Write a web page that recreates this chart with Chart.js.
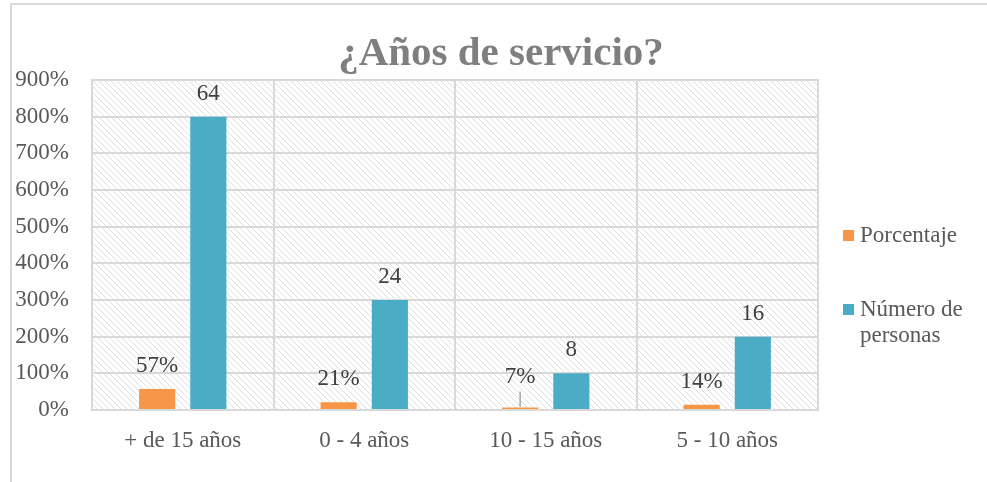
<!DOCTYPE html>
<html>
<head>
<meta charset="utf-8">
<script src="https://cdn.jsdelivr.net/npm/chart.js@4/dist/chart.umd.min.js"></script>
<style>
  body { margin: 0; background: #fff; }
  #wrap { position: relative; width: 987px; height: 482px; }
  #frame { position: absolute; left: 10px; top: 3px; right: -10px; bottom: -10px;
           border-left: 2px solid #d9d9d9; border-top: 2px solid #d9d9d9; }
  #c { position: absolute; left: 0; top: 0; }
</style>
</head>
<body>
<div id="wrap">
  <div id="frame"></div>
  <canvas id="c" width="987" height="482"></canvas>
</div>
<script>
const titulo = '¿Años de servicio?';
const categorias = ['+ de 15 años', '0 - 4 años', '10 - 15 años', '5 - 10 años'];
const porcentaje = [57, 21, 7, 14];          // altura en % del eje
const personasAltura = [800, 300, 100, 200]; // altura que Excel dibuja para cada barra
const personasValor = [64, 24, 8, 16];       // etiqueta que se muestra encima
const ticksY = [0, 100, 200, 300, 400, 500, 600, 700, 800, 900];

const FONT = '"Liberation Serif", "Times New Roman", serif';
const GRIS = '#d9d9d9';

// trama diagonal del fondo del area de trazado
function makeHatch() {
    const t = document.createElement('canvas');
    t.width = 6; t.height = 6;
    const g = t.getContext('2d');
    g.fillStyle = '#fff';
    g.fillRect(0, 0, 6, 6);
    g.strokeStyle = '#dedede';
    g.lineWidth = 1;
    g.beginPath();
    g.moveTo(-1, -1); g.lineTo(7, 7);
    g.moveTo(-1, 5); g.lineTo(1, 7);
    g.moveTo(5, -1); g.lineTo(7, 1);
    g.stroke();
    return g.createPattern(t, 'repeat');
}

const fondoPlugin = {
    id: 'fondo',
    beforeDraw(chart) {
        const { ctx, chartArea: a } = chart;
        ctx.save();
        ctx.fillStyle = makeHatch();
        ctx.fillRect(a.left, a.top, a.right - a.left, a.bottom - a.top);
        ctx.restore();
    },
    afterDraw(chart) {
        const { ctx, chartArea: a } = chart;
        ctx.save();
        ctx.strokeStyle = GRIS;
        ctx.lineWidth = 2;
        ctx.strokeRect(a.left, a.top, a.right - a.left, a.bottom - a.top);

        // titulo
        ctx.fillStyle = '#7f7f7f';
        ctx.font = 'bold 41px ' + FONT;
        ctx.textAlign = 'center';
        ctx.textBaseline = 'alphabetic';
        ctx.fillText(titulo, 501, 65);

        // leyenda
        ctx.font = '23px ' + FONT;
        ctx.textAlign = 'left';
        ctx.textBaseline = 'middle';
        const tops = [236, 310];
        chart.data.datasets.forEach((ds, i) => {
            const y = tops[i];
            ctx.fillStyle = ds.backgroundColor;
            ctx.fillRect(843, y - 6, 11, 11);
            ctx.fillStyle = '#595959';
            const words = ds.label.split(' ');
            const lines = [];
            let cur = '';
            words.forEach(w => {
                const test = cur ? cur + ' ' + w : w;
                if (ctx.measureText(test).width > 118 && cur) { lines.push(cur); cur = w; }
                else cur = test;
            });
            lines.push(cur);
            lines.forEach((l, k) => ctx.fillText(l, 860, y + k * 26));
        });
        ctx.restore();
    }
};

// etiquetas de datos encima de cada barra
const etiquetasPlugin = {
    id: 'etiquetas',
    afterDatasetsDraw(chart, args, opts) {
        const { ctx } = chart;
        ctx.save();
        ctx.font = '23px ' + FONT;
        ctx.fillStyle = '#404040';
        ctx.textAlign = 'center';
        ctx.textBaseline = 'middle';
        chart.data.datasets.forEach((ds, di) => {
            chart.getDatasetMeta(di).data.forEach((bar, i) => {
                const lift = (opts.nudge[di] && opts.nudge[di][i]) || 0;
                const y = bar.y - 23 - lift;
                ctx.fillText(ds.textos[i], bar.x, y);
                if (lift) {
                    ctx.strokeStyle = '#a6a6a6';
                    ctx.lineWidth = 1.5;
                    ctx.beginPath();
                    ctx.moveTo(bar.x, y + 14);
                    ctx.lineTo(bar.x, bar.y - 1);
                    ctx.stroke();
                }
            });
        });
        ctx.restore();
    }
};

new Chart(document.getElementById('c'), {
    type: 'bar',
    data: {
        labels: categorias,
        datasets: [{
            label: 'Porcentaje',
            data: porcentaje,
            textos: porcentaje.map(v => v + '%'),
            backgroundColor: '#f79646'
        }, {
            label: 'Número de personas',
            data: personasAltura,
            textos: personasValor.map(String),
            backgroundColor: '#4bacc6'
        }]
    },
    options: {
        responsive: false,
        animation: false,
        layout: { padding: { left: 0, top: 80, right: 169, bottom: 0 } },
        datasets: { bar: { categoryPercentage: 0.564, barPercentage: 0.706 } },
        plugins: {
            legend: { display: false },
            title: { display: false },
            tooltip: { enabled: false },
            etiquetas: { nudge: { 0: { 2: 7 } } }
        },
        scales: {
            x: {
                afterFit(s) { s.height = 72; },
                grid: { color: GRIS, lineWidth: 2, drawTicks: false, offset: true },
                border: { color: GRIS, width: 2 },
                ticks: { color: '#595959', font: { family: FONT, size: 23 }, padding: 17 }
            },
            y: {
                min: 0,
                max: 900,
                afterFit(s) { s.width = 92; },
                afterBuildTicks(s) { s.ticks = ticksY.map(v => ({ value: v })); },
                grid: { color: GRIS, lineWidth: 2, drawTicks: false },
                border: { color: GRIS, width: 2 },
                ticks: {
                    color: '#595959',
                    font: { family: FONT, size: 23 },
                    padding: 23,
                    callback: v => v + '%'
                }
            }
        }
    },
    plugins: [fondoPlugin, etiquetasPlugin]
});
</script>
</body>
</html>
